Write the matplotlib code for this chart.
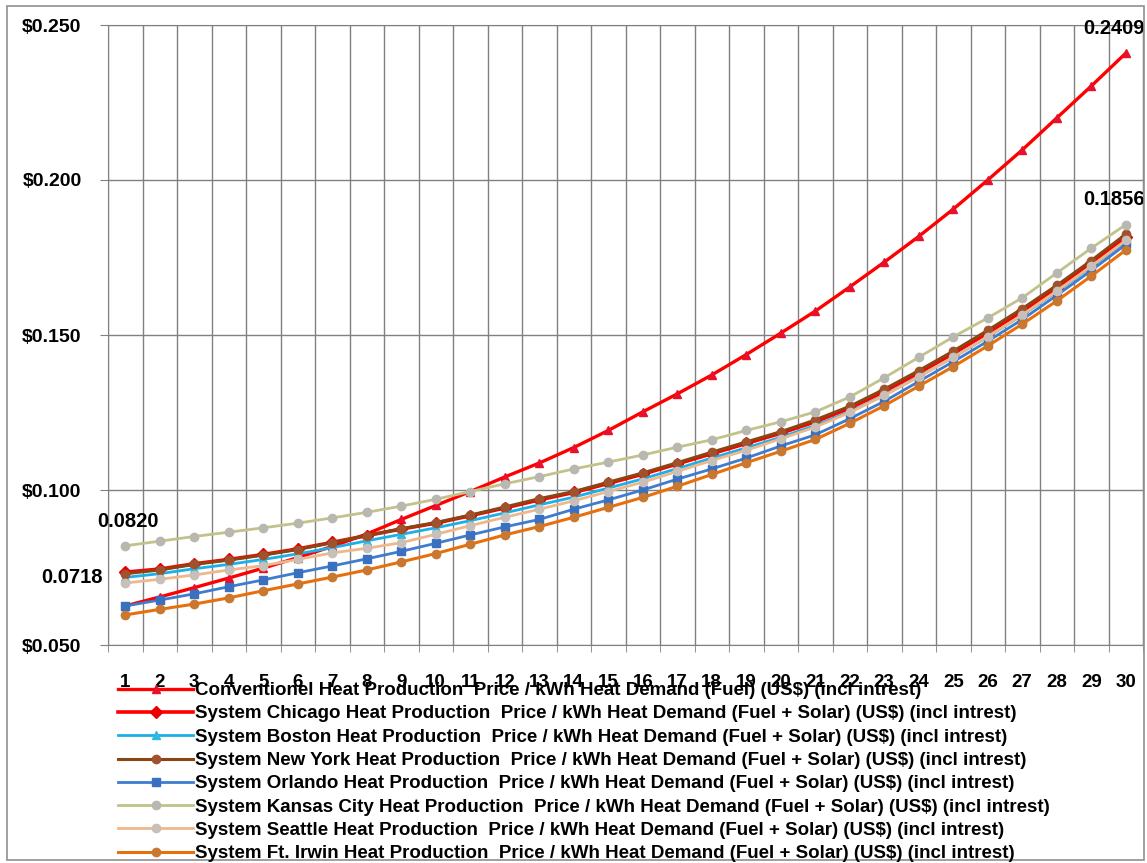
import numpy as np
import matplotlib
matplotlib.use('Agg')
import matplotlib.pyplot as plt
from matplotlib.patches import Rectangle

plt.rcParams['font.family'] = ['Liberation Sans', 'DejaVu Sans']

years = list(range(1, 31))

conventional = [0.0626, 0.0655, 0.0685, 0.0716, 0.0748, 0.0782, 0.0818, 0.0858, 0.0905, 0.0950,
                0.0995, 0.1042, 0.1087, 0.1137, 0.1192, 0.1252, 0.1310, 0.1371, 0.1437, 0.1506,
                0.1577, 0.1655, 0.1735, 0.1818, 0.1906, 0.2000, 0.2097, 0.2200, 0.2303, 0.2409]
chicago = [0.0735, 0.0745, 0.0762, 0.0776, 0.0792, 0.0810, 0.0831, 0.0853, 0.0874, 0.0893,
           0.0917, 0.0942, 0.0968, 0.0992, 0.1021, 0.1051, 0.1084, 0.1117, 0.1150, 0.1183,
           0.1220, 0.1264, 0.1318, 0.1378, 0.1440, 0.1506, 0.1576, 0.1651, 0.1731, 0.1815]
boston = [0.0718, 0.0730, 0.0746, 0.0760, 0.0776, 0.0794, 0.0814, 0.0836, 0.0857, 0.0878,
          0.0901, 0.0926, 0.0952, 0.0977, 0.1006, 0.1036, 0.1069, 0.1103, 0.1136, 0.1170,
          0.1208, 0.1252, 0.1306, 0.1366, 0.1428, 0.1494, 0.1564, 0.1640, 0.1720, 0.1802]
new_york = [0.0730, 0.0742, 0.0760, 0.0774, 0.0790, 0.0808, 0.0830, 0.0853, 0.0875, 0.0895,
            0.0919, 0.0945, 0.0972, 0.0995, 0.1025, 0.1055, 0.1088, 0.1122, 0.1155, 0.1188,
            0.1226, 0.1270, 0.1325, 0.1385, 0.1448, 0.1515, 0.1585, 0.1660, 0.1740, 0.1825]
orlando = [0.0626, 0.0645, 0.0665, 0.0688, 0.0710, 0.0733, 0.0755, 0.0778, 0.0802, 0.0828,
           0.0855, 0.0881, 0.0905, 0.0938, 0.0968, 0.1000, 0.1035, 0.1068, 0.1103, 0.1142,
           0.1178, 0.1230, 0.1286, 0.1350, 0.1414, 0.1480, 0.1550, 0.1628, 0.1708, 0.1792]
kansas_city = [0.0820, 0.0835, 0.0850, 0.0864, 0.0878, 0.0893, 0.0910, 0.0928, 0.0948, 0.0970,
               0.0995, 0.1020, 0.1043, 0.1068, 0.1090, 0.1113, 0.1138, 0.1162, 0.1192, 0.1220,
               0.1252, 0.1300, 0.1362, 0.1428, 0.1494, 0.1555, 0.1620, 0.1700, 0.1780, 0.1856]
seattle = [0.0700, 0.0712, 0.0726, 0.0742, 0.0756, 0.0776, 0.0797, 0.0812, 0.0830, 0.0857,
           0.0885, 0.0912, 0.0938, 0.0965, 0.0995, 0.1025, 0.1060, 0.1095, 0.1128, 0.1165,
           0.1203, 0.1250, 0.1305, 0.1365, 0.1428, 0.1495, 0.1565, 0.1642, 0.1722, 0.1805]
ft_irwin = [0.0597, 0.0615, 0.0632, 0.0652, 0.0675, 0.0697, 0.0719, 0.0742, 0.0768, 0.0795,
            0.0825, 0.0855, 0.0882, 0.0912, 0.0944, 0.0976, 0.1012, 0.1050, 0.1088, 0.1125,
            0.1163, 0.1215, 0.1272, 0.1335, 0.1398, 0.1465, 0.1535, 0.1610, 0.1690, 0.1774]

y_ticks = [0.05, 0.10, 0.15, 0.20, 0.25]
y_ticklabels = ['$0.050', '$0.100', '$0.150', '$0.200', '$0.250']

suffix = ' Heat Production  Price / kWh Heat Demand (Fuel + Solar) (US$) (incl intrest)'
series = [
    (conventional, 'Conventionel Heat Production  Price / kWh Heat Demand (Fuel) (US$) (incl intrest)',
     '#FF0000', '^', 2.4),
    (chicago, 'System Chicago' + suffix, '#FF0000', 'D', 2.6),
    (boston, 'System Boston' + suffix, '#1CB0E8', '^', 2.0),
    (new_york, 'System New York' + suffix, '#8B4513', 'o', 2.2),
    (orlando, 'System Orlando' + suffix, '#3E7CD0', 's', 2.0),
    (kansas_city, 'System Kansas City' + suffix, '#C2C28A', 'o', 2.0),
    (seattle, 'System Seattle' + suffix, '#EEB88C', 'o', 2.0),
    (ft_irwin, 'System Ft. Irwin' + suffix, '#E8700C', 'o', 2.2),
]
marker_faces = ['#E8102A', '#E80000', '#30B8E0', '#A0522D', '#3A70C0', '#B8B8B0', '#C8C0B8', '#C87830']

fig = plt.figure(figsize=(11.47, 8.63), dpi=100)
fig.patch.set_facecolor('white')
ax = fig.add_axes([108 / 1147, 1 - 645 / 863, 1035 / 1147, 620 / 863])

for (vals, label, color, marker, lw), mfc in zip(series, marker_faces):
    ax.plot(years, vals, color=color, linewidth=lw, marker=marker, markersize=6,
            markerfacecolor=mfc, markeredgecolor=mfc, label=label)

ax.set_xlim(0.5, 30.5)
ax.set_ylim(0.05, 0.25)
ax.set_xticks(years)
ax.set_xticklabels([str(v) for v in years], fontsize=13.5, fontweight='bold')
ax.set_xticks(np.arange(0.5, 31, 1), minor=True)
ax.tick_params(axis='x', which='major', length=0, pad=21)
ax.tick_params(axis='x', which='minor', length=5, color='#808080')
ax.set_yticks(y_ticks)
ax.set_yticklabels(y_ticklabels, fontsize=14, fontweight='bold')
ax.tick_params(axis='y', length=6, color='#808080', pad=13)
ax.grid(True, which='minor', axis='x', color='#808080', linewidth=1)
ax.grid(True, which='major', axis='y', color='#808080', linewidth=1)
for s in ax.spines.values():
    s.set_color('#808080')

lbl = dict(fontsize=14.5, fontweight='bold', textcoords='offset pixels')
ax.annotate('0.0820', (1, kansas_city[0]), xytext=(3, 24), ha='center', va='center', **lbl)
ax.annotate('0.0718', (1, boston[0]), xytext=(-22, 0), ha='right', va='center', **lbl)
ax.annotate('0.2409', (30, conventional[-1]), xytext=(-12, 25), ha='center', va='center', **lbl)
ax.annotate('0.1856', (30, kansas_city[-1]), xytext=(-12, 25), ha='center', va='center', **lbl)

leg = fig.legend(loc='upper left', bbox_to_anchor=(118 / 1147, 1 - 682 / 863),
                 frameon=False, prop={'size': 13.5, 'weight': 'bold'},
                 handlelength=4.0, handletextpad=0.1, labelspacing=0.33,
                 borderpad=0, borderaxespad=0)

fig.patches.append(Rectangle((7 / 1147, 1 - 860 / 863), 1137 / 1147, 854 / 863,
                             transform=fig.transFigure, fill=False,
                             edgecolor='#909090', linewidth=1.2))

fig.savefig('out.png', dpi=100, facecolor='white')
